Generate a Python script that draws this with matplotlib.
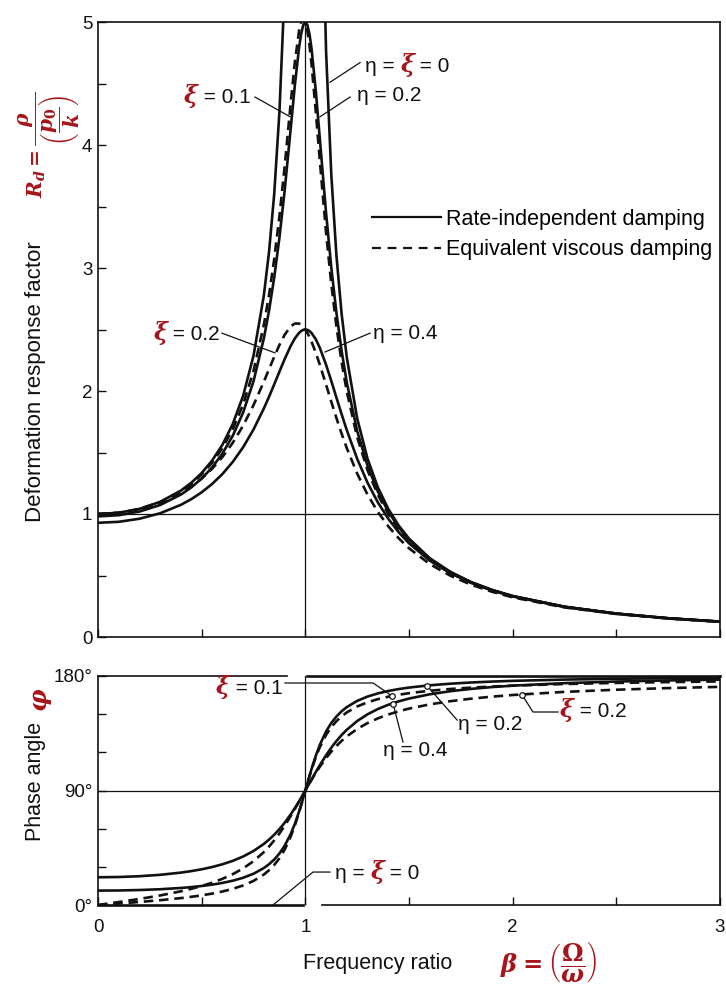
import numpy as np
import matplotlib
matplotlib.use('Agg')
import matplotlib.pyplot as plt
from matplotlib.lines import Line2D
from matplotlib.offsetbox import TextArea, HPacker, AnnotationBbox
from matplotlib.ticker import MultipleLocator, FixedLocator

plt.rcParams['font.family'] = ['Liberation Sans', 'DejaVu Sans']
plt.rcParams['mathtext.fontset'] = 'custom'
plt.rcParams['mathtext.it'] = 'DejaVu Serif:italic:bold'
plt.rcParams['mathtext.rm'] = 'DejaVu Serif:bold'
plt.rcParams['mathtext.bf'] = 'DejaVu Serif:bold'

nan = float('nan')

# ---------------- data ----------------
beta = [0.0, 0.1, 0.2, 0.3, 0.4,
        0.45, 0.5, 0.55, 0.6, 0.65,
        0.7, 0.75, 0.8, 0.825, 0.85,
        0.875, 0.9, 0.93, 0.95, 0.97,
        0.98, 0.99, 1.0, 1.01, 1.02,
        1.03, 1.05, 1.07, 1.1, 1.125,
        1.15, 1.175, 1.2, 1.25, 1.3,
        1.35, 1.4, 1.45, 1.5, 1.6,
        1.7, 1.8, 1.9, 2.0, 2.25,
        2.5, 2.75, 3.0]

# deformation response factor
rd_undamped = [1.0, 1.0101, 1.0417, 1.0989, 1.1905,
               1.2539, 1.3333, 1.4337, 1.5625, 1.7316,
               1.9608, 2.2857, 2.7778, 3.1311, 3.6036,
               4.2667, 5.2632, 7.40, 10.26, 16.92,
               25.25, 50.25, nan, 49.75, 24.75,
               16.42, 9.756, 6.901, 4.7619, 3.7647,
               3.1008, 2.6273, 2.2727, 1.7778, 1.4493,
               1.2158, 1.0417, 0.9070, 0.8, 0.6410,
               0.5291, 0.4464, 0.3831, 0.3333, 0.2462,
               0.1905, 0.1524, 0.125]
rd_eta02 = [0.9806, 0.9901, 1.0198, 1.0733, 1.1581,
            1.2162, 1.2883, 1.3781, 1.4914, 1.6362,
            1.8254, 2.0788, 2.4282, 2.6537, 2.9234,
            3.2456, 3.6250, 4.1433, 4.4944, 4.7950,
            4.9048, 4.9754, 5.0, 4.9749, 4.9010,
            4.7831, 4.4497, 4.0490, 3.4483, 3.0075,
            2.6351, 2.3257, 2.0690, 1.6750, 1.3920,
            1.1814, 1.0198, 0.8925, 0.7900, 0.6358,
            0.5262, 0.4447, 0.3820, 0.3326, 0.2459,
            0.1903, 0.1523, 0.1250]
rd_eta04 = [0.9285, 0.9365, 0.9615, 1.0060, 1.0748,
            1.1208, 1.1765, 1.2437, 1.3250, 1.4235,
            1.5429, 1.6869, 1.8582, 1.9537, 2.0541,
            2.1570, 2.2582, 2.3685, 2.4289, 2.4731,
            2.4878, 2.4969, 2.5, 2.4969, 2.4873,
            2.4715, 2.4218, 2.3505, 2.2135, 2.0826,
            1.9462, 1.8111, 1.6817, 1.4488, 1.2538,
            1.0934, 0.9615, 0.8526, 0.7619, 0.6209,
            0.5176, 0.4395, 0.3787, 0.3304, 0.2450,
            0.1899, 0.1521, 0.1248]
rd_xi01 = [1.0, 1.0099, 1.0408, 1.0965, 1.1851,
           1.2460, 1.3216, 1.4162, 1.5357, 1.6893,
           1.8908, 2.1622, 2.5384, 2.7818, 3.0728,
           3.4188, 3.8208, 4.3500, 4.6826, 4.9310,
           5.0010, 5.0252, 5.0, 4.9262, 4.8086,
           4.6552, 4.2794, 3.8694, 3.2880, 2.8726,
           2.5245, 2.2355, 1.9952, 1.6245, 1.3562,
           1.1551, 1.0, 0.8772, 0.7779, 0.6279,
           0.5207, 0.4408, 0.3791, 0.3304, 0.2447,
           0.1896, 0.1518, 0.1246]
rd_xi02 = [1.0, 1.0093, 1.0381, 1.0895, 1.1695,
           1.2231, 1.2883, 1.3673, 1.4630, 1.5789,
           1.7188, 1.8851, 2.0761, 2.1775, 2.2786,
           2.3740, 2.4566, 2.5267, 2.5490, 2.5480,
           2.5381, 2.5221, 2.5, 2.4722, 2.4391,
           2.4011, 2.3131, 2.2131, 2.0511, 1.9137,
           1.7800, 1.6535, 1.5357, 1.3287, 1.1574,
           1.0163, 0.8998, 0.8027, 0.7212, 0.5931,
           0.4979, 0.4250, 0.3679, 0.3221, 0.2403,
           0.1871, 0.1503, 0.1236]

# phase angle (degrees)
ph_undamped = [0, 0, 0, 0, 0,
               0, 0, 0, 0, 0,
               0, 0, 0, 0, 0,
               0, 0, 0, 0, 0,
               0, 0, nan, 180, 180,
               180, 180, 180, 180, 180,
               180, 180, 180, 180, 180,
               180, 180, 180, 180, 180,
               180, 180, 180, 180, 180,
               180, 180, 180]
ph_eta02 = [11.31, 11.42, 11.77, 12.39, 13.39,
            14.08, 14.93, 16.00, 17.35, 19.10,
            21.41, 24.57, 29.05, 32.06, 35.78,
            40.47, 46.47, 55.96, 64.01, 73.54,
            78.80, 84.32, 90.0, 95.74, 101.42,
            106.94, 117.13, 125.92, 136.40, 143.02,
            148.19, 152.28, 155.56, 160.43, 163.84,
            166.33, 168.23, 169.72, 170.91, 172.69,
            173.96, 174.90, 175.62, 176.19, 177.18,
            177.82, 178.25, 178.57]
ph_eta04 = [21.80, 22.00, 22.62, 23.73, 25.46,
            26.64, 28.07, 29.83, 32.01, 34.71,
            38.11, 42.44, 48.01, 51.40, 55.24,
            59.63, 64.59, 71.34, 76.30, 81.60,
            84.35, 87.15, 90.0, 92.88, 95.77,
            98.66, 104.37, 109.91, 117.70, 123.59,
            128.88, 133.58, 137.73, 144.58, 149.90,
            154.07, 157.38, 160.06, 162.26, 165.62,
            168.05, 169.88, 171.29, 172.41, 174.38,
            175.64, 176.51, 177.14]
ph_xi01 = [0.0, 1.16, 2.39, 3.77, 5.44,
           6.44, 7.59, 8.96, 10.62, 12.69,
           15.35, 18.92, 23.96, 27.32, 31.49,
           36.75, 43.45, 54.00, 62.84, 73.06,
           78.58, 84.26, 90.0, 95.68, 101.20,
           106.47, 116.02, 124.10, 133.67, 139.73,
           144.50, 148.31, 151.39, 156.04, 159.35,
           161.83, 163.74, 165.26, 166.50, 168.41,
           169.80, 170.87, 171.72, 172.41, 173.68,
           174.56, 175.21, 175.71]
ph_xi02 = [0.0, 2.31, 4.76, 7.51, 10.78,
           12.72, 14.93, 17.51, 20.56, 24.24,
           28.77, 34.44, 41.63, 45.94, 50.78,
           56.20, 62.18, 70.04, 75.61, 81.34,
           84.23, 87.12, 90.0, 92.85, 95.65,
           98.41, 103.71, 108.70, 115.51, 120.56,
           125.03, 129.00, 132.51, 138.37, 143.00,
           146.71, 149.74, 152.25, 154.36, 157.69,
           160.21, 162.18, 163.77, 165.07, 167.51,
           169.22, 170.49, 171.47]

rd_ticks = [0, 1, 2, 3, 4, 5]
ph_ticks = [0, 90, 180]
ph_ticklabels = ['0°', '90°', '180°']
beta_ticks = [0, 1, 2, 3]
legend_labels = ['Rate-independent damping', 'Equivalent viscous damping']

# ---------------- styling ----------------
RED = '#a5151b'
INK = '#111111'
LW = 1.9
DASH = (0, (3.6, 2.2))
TXT = 15
TICK = 13.5
GRID_LW = 0.9

fig = plt.figure(figsize=(7.26, 9.96), dpi=100)
W, H = 726.0, 996.0
ax1 = fig.add_axes([98 / W, 1 - 637 / H, 622 / W, 615 / H])
ax2 = fig.add_axes([98 / W, 1 - 905 / H, 622 / W, 229 / H])

for ax in (ax1, ax2):
    for sp in ax.spines.values():
        sp.set_linewidth(1.2)
        sp.set_color(INK)
    ax.set_xlim(0, 3)
    ax.tick_params(which='both', direction='in', length=6, width=1.0,
                   colors=INK, labelsize=TICK, top=False, right=False)
    ax.axvline(1, color=INK, lw=GRID_LW, zorder=1)

# ---- top panel
ax1.set_ylim(0, 5)
ax1.axhline(1, color=INK, lw=GRID_LW, zorder=1)
ax1.plot(beta, rd_undamped, color=INK, lw=LW, zorder=3)
ax1.plot(beta, rd_eta02, color=INK, lw=LW, zorder=3)
ax1.plot(beta, rd_eta04, color=INK, lw=LW, zorder=3)
ax1.plot(beta, rd_xi01, color=INK, lw=LW, ls=DASH, zorder=3)
ax1.plot(beta, rd_xi02, color=INK, lw=LW, ls=DASH, zorder=3)
ax1.yaxis.set_major_locator(FixedLocator(rd_ticks))
ax1.yaxis.set_minor_locator(MultipleLocator(0.5))
ax1.xaxis.set_major_locator(MultipleLocator(0.5))
ax1.tick_params(axis='x', labelbottom=False)
ax1.tick_params(axis='y', pad=4)

# ---- bottom panel
ax2.set_ylim(0, 180)
ax2.axhline(90, color=INK, lw=GRID_LW, zorder=1)
ax2.plot(beta, ph_undamped, color=INK, lw=LW, zorder=3, clip_on=False)
ax2.plot(beta, ph_eta02, color=INK, lw=LW, zorder=3)
ax2.plot(beta, ph_eta04, color=INK, lw=LW, zorder=3)
ax2.plot(beta, ph_xi01, color=INK, lw=LW, ls=DASH, zorder=3)
ax2.plot(beta, ph_xi02, color=INK, lw=LW, ls=DASH, zorder=3)
ax2.yaxis.set_major_locator(FixedLocator(ph_ticks))
ax2.set_yticklabels(ph_ticklabels)
ax2.yaxis.set_minor_locator(MultipleLocator(30))
ax2.xaxis.set_major_locator(FixedLocator(beta_ticks))
ax2.xaxis.set_minor_locator(MultipleLocator(0.5))
ax2.tick_params(axis='x', pad=10)
ax2.tick_params(axis='y', pad=4)
# the frame is broken where the labels cross it in the original
ax2.spines['bottom'].set_bounds(1.08, 3)
ax2.spines['top'].set_bounds(0, 0.912)

# ---- legend
handles = [Line2D([], [], color=INK, lw=1.6),
           Line2D([], [], color=INK, lw=1.6, ls=(0, (4, 3)))]
ax1.legend(handles, legend_labels, loc='upper left', frameon=False,
           bbox_to_anchor=(372 / W, 1 - 209 / H), bbox_transform=fig.transFigure,
           borderpad=0, borderaxespad=0, handlelength=3.2, handletextpad=0.25,
           labelspacing=0.42, fontsize=15.5)


# ---- curve labels
def piece_label(ax, pieces, xy, halign):
    kids = []
    for s, red in pieces:
        if red:
            props = dict(color=RED, fontsize=17, family='DejaVu Serif',
                         style='italic', weight='bold')
        else:
            props = dict(color=INK, fontsize=TXT)
        kids.append(TextArea(s, textprops=props))
    box = HPacker(children=kids, align='baseline', pad=0, sep=0)
    ab = AnnotationBbox(box, xy, xycoords='data', box_alignment=(halign, 0.5),
                        frameon=False, pad=0, annotation_clip=False, zorder=6)
    ax.add_artist(ab)


def leader(ax, xs, ys, dot=False):
    ax.add_line(Line2D(xs, ys, color=INK, lw=0.9, zorder=5, clip_on=False))
    if dot:
        ax.plot(xs[-1], ys[-1], 'o', ms=4, mfc='white', mec=INK, mew=0.9, zorder=6)


# top panel
piece_label(ax1, [('ξ', True), (' = 0.1', False)], (0.735, 4.40), 1.0)
leader(ax1, [0.757, 0.926], [4.39, 4.23])
piece_label(ax1, [('η = ', False), ('ξ', True), (' = 0', False)], (1.288, 4.65), 0.0)
leader(ax1, [1.264, 1.119], [4.67, 4.51])
piece_label(ax1, [('η = 0.2', False)], (1.249, 4.40), 0.0)
leader(ax1, [1.216, 1.071], [4.39, 4.23])
piece_label(ax1, [('ξ', True), (' = 0.2', False)], (0.589, 2.47), 1.0)
leader(ax1, [0.598, 0.854], [2.47, 2.31])
piece_label(ax1, [('η = 0.4', False)], (1.327, 2.47), 0.0)
leader(ax1, [1.312, 1.095], [2.47, 2.317])

# bottom panel
piece_label(ax2, [('ξ', True), (' = 0.1', False)], (0.892, 171.0), 1.0)
leader(ax2, [0.902, 1.327, 1.418], [174.5, 174.5, 164.3], dot=True)
piece_label(ax2, [('η = 0.2', False)], (1.737, 141.5), 0.0)
leader(ax2, [1.732, 1.587], [145.4, 172.3], dot=True)
piece_label(ax2, [('η = 0.4', False)], (1.375, 121.8), 0.0)
leader(ax2, [1.471, 1.423], [128.1, 158.3], dot=True)
piece_label(ax2, [('ξ', True), (' = 0.2', False)], (2.229, 153.3), 0.0)
leader(ax2, [2.219, 2.098, 2.045], [151.7, 151.7, 165.3], dot=True)
piece_label(ax2, [('η = ', False), ('ξ', True), (' = 0', False)], (1.143, 25.9), 0.0)
leader(ax2, [1.119, 1.037, 0.844], [25.9, 25.9, 0.0])

# ---- axis titles
fig.text(36 / W, 1 - 382 / H, 'Deformation response factor', rotation=90,
         ha='center', va='center', fontsize=16, color=INK)
fig.text(49 / W, 1 - 145 / H, r'$R_d = \dfrac{\rho}{\left(\dfrac{p_0}{k}\right)}$',
         rotation=90, ha='center', va='center', fontsize=14.5, color=RED)
fig.text(35 / W, 1 - 781 / H, 'Phase angle', rotation=90,
         ha='center', va='center', fontsize=15.5, color=INK)
fig.text(42 / W, 1 - 700 / H, r'$\varphi$', rotation=90,
         ha='center', va='center', fontsize=18, color=RED)
fig.text(378 / W, 1 - 963 / H, 'Frequency ratio', ha='center', va='center',
         fontsize=15.5, color=INK)
fig.text(548 / W, 1 - 962 / H, r'$\beta = \left(\dfrac{\Omega}{\omega}\right)$',
         ha='center', va='center', fontsize=17.5, color=RED)

fig.savefig('out.png', dpi=100)
